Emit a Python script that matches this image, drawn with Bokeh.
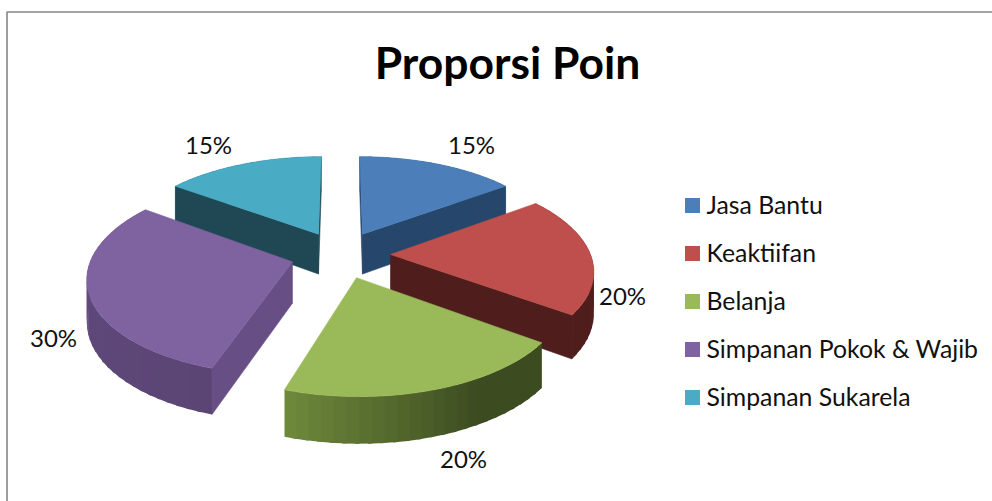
import math
from bokeh.plotting import figure
from bokeh.models import Range1d
from bokeh.core.properties import value
from bokeh.embed import file_html
from bokeh.resources import INLINE

# ---- data ----
TITLE = "Proporsi Poin"
categories = ["Jasa Bantu", "Keaktiifan", "Belanja", "Simpanan Pokok & Wajib", "Simpanan Sukarela"]
shares = [15, 20, 20, 30, 15]
top_colors = ["#4c7fba", "#bf4f4c", "#9aba59", "#7f63a1", "#4aabc5"]
wall_colors = ["#27466c", "#4f1e1c", "#6f8a3c", "#674f85", "#1f4854"]

# ---- layout of the pseudo-3D pie, in page pixels ----
W, H = 992, 501
CX, CY = 340.0, 254.0
RX, RY = 200.0, 94.2
PERSP = 0.145
EXPLODE = 0.25
LABEL_POS = [(471, 144), (622, 295), (463, 458), (53, 337), (208, 144)]
LEGEND_Y = [205, 253, 301, 349, 397]
FONT = "Lato"


def project(ang_deg, r, ou, ov, drop=0.0):
    """True perspective of a point on the exploded disc (world units: radius = 1)."""
    a = math.radians(ang_deg)
    u, v = ou + math.sin(a) * r, ov - math.cos(a) * r
    s = 1.0 / (1.0 - PERSP * v)
    d = drop * (41 + 5 * v)
    return CX + RX * u * s, CY + RY * v * s + d


def shade(hex_color, f):
    r, g, b = int(hex_color[1:3], 16), int(hex_color[3:5], 16), int(hex_color[5:7], 16)
    return "#%02x%02x%02x" % (min(255, int(r * f)), min(255, int(g * f)), min(255, int(b * f)))


def wall_factor(i, ang):
    if i == 2:  # green wall: lit at the left, dark from about 150 degrees
        t = max(0.0, min(1.0, (ang - 150) / 48.0))
        return 0.55 + 0.45 * t
    if i == 3:  # purple wall: nearly uniform
        return 0.88 + 0.06 * (ang - 198) / 72.0
    return 1.0


p = figure(width=W, height=H, x_range=Range1d(0, W), y_range=Range1d(H, 0),
           output_backend="svg", toolbar_location=None, min_border=0,
           outline_line_color=None, background_fill_color="white",
           styles={"position": "absolute", "left": "0px", "top": "0px"})
p.axis.visible = False
p.grid.visible = False

p.line([6.5, 6.5, W], [H, 11.5, 11.5], line_color="#868686", line_width=1.6)

total = float(sum(shares))
starts, a0 = [], 0.0
for sh in shares:
    starts.append(a0)
    a0 += 360.0 * sh / total

for i in [4, 0, 3, 1, 2]:  # painter's order, back to front
    start, sweep = starts[i], 360.0 * shares[i] / total
    end = start + sweep
    mid = start + sweep / 2
    m = math.radians(mid)
    ou = EXPLODE * math.sin(m)
    ov = -EXPLODE * math.cos(m)
    ax, ay = project(0, 0, ou, ov)
    steps = max(8, int(sweep / 3))
    angs = [start + sweep * k / steps for k in range(steps + 1)]

    # outer curved wall, in narrow shaded strips that overlap slightly
    for a, b in zip(angs[:-1], angs[1:]):
        b2 = min(end, b + 1.0)
        xa, ya = project(a, 1, ou, ov)
        xb, yb = project(b2, 1, ou, ov)
        xa2, ya2 = project(a, 1, ou, ov, 1)
        xb2, yb2 = project(b2, 1, ou, ov, 1)
        c = shade(wall_colors[i], wall_factor(i, (a + b) / 2))
        p.patch([xa, xb, xb2, xa2], [ya, yb, yb2, ya2], fill_color=c, line_color=None)

    # radial cut faces which look toward the viewer
    ix, iy = project(mid, 1, ou, ov)
    for edge in (start, end):
        cx, cy = project(edge, 1, ou, ov)
        if abs(cx - ax) < 1:
            continue
        yline = ay + (cy - ay) * (ix - ax) / (cx - ax)
        if iy < yline:
            cx2, cy2 = project(edge, 1, ou, ov, 1)
            ax2, ay2 = project(edge, 0, ou, ov, 1)
            cface = wall_colors[i]
            p.patch([ax, cx, cx2, ax2], [ay, cy, cy2, ay2], fill_color=cface, line_color=cface, line_width=0.6)

    # top surface
    xs, ys = [ax], [ay]
    for a in angs:
        x, y = project(a, 1, ou, ov)
        xs.append(x)
        ys.append(y)
    p.patch(xs, ys, fill_color=top_colors[i], line_color=top_colors[i], line_width=0.6)

# title
p.text([507], [61], text=[TITLE], text_font=value(FONT), text_font_style="bold",
       text_font_size="44.4px", text_color="#000000", text_align="center", text_baseline="middle")

# percentage labels
for (lx, ly), sh in zip(LABEL_POS, shares):
    p.text([lx], [ly], text=[f"{sh}%"], text_font=value(FONT), text_font_size="24px",
           text_color="#111111", text_align="center", text_baseline="middle")

# legend
for name, col, ly in zip(categories, top_colors, LEGEND_Y):
    p.scatter([692], [ly], marker="square", size=15, fill_color=col, line_color=None)
    p.text([706], [ly - 1], text=[name], text_font=value(FONT), text_font_size="24.8px",
           text_color="#111111", text_align="left", text_baseline="middle")

open("out.html", "w").write(file_html(p, INLINE))
